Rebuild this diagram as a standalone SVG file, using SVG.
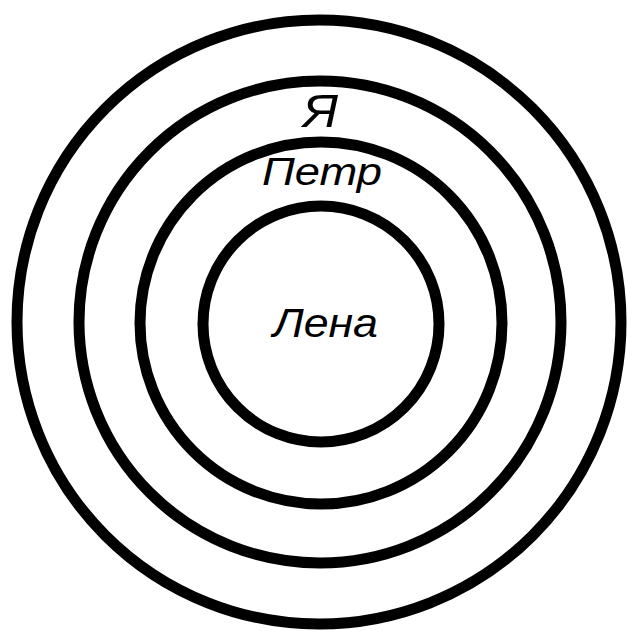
<svg xmlns="http://www.w3.org/2000/svg" width="627" height="631" viewBox="0 0 627 631">
<style>
.ring{fill:none;stroke:#000;stroke-width:11}
.lbl{font-family:"Liberation Sans",Arial,sans-serif;font-style:italic;fill:#000}
</style>
<rect width="627" height="631" fill="#fff"/>
<g id="ring-ya"><circle class="ring" cx="319" cy="322" r="302"/></g>
<g id="ring-petr"><circle class="ring" cx="320" cy="322" r="241"/></g>
<g id="ring-lena-outer"><circle class="ring" cx="321" cy="323" r="181"/></g>
<g id="ring-lena"><circle class="ring" cx="321" cy="324" r="118"/></g>
<g id="label-ya"><text class="lbl" x="303" y="127" font-size="46" textLength="35" lengthAdjust="spacingAndGlyphs">Я</text></g>
<g id="label-petr"><text class="lbl" x="262" y="185" font-size="39" textLength="120" lengthAdjust="spacingAndGlyphs">Петр</text></g>
<g id="label-lena"><text class="lbl" x="273" y="337" font-size="40" textLength="105" lengthAdjust="spacingAndGlyphs">Лена</text></g>
<g id="connectors"/>
</svg>
